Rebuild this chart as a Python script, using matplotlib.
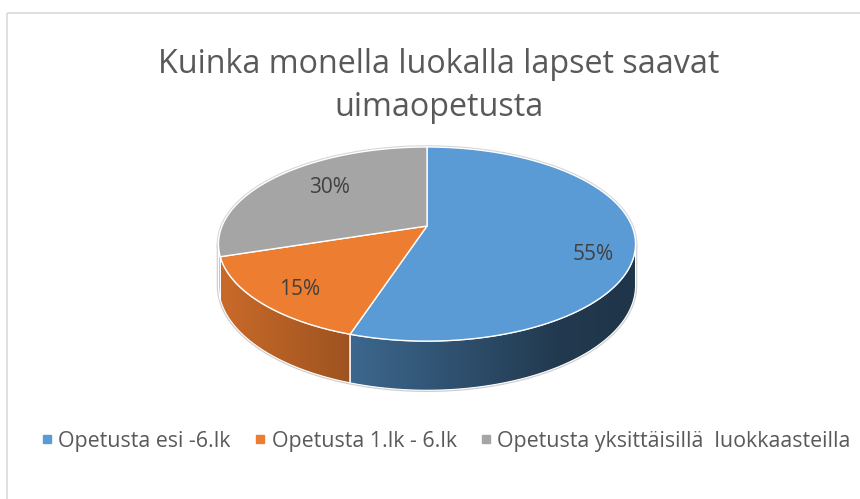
import numpy as np
import matplotlib.pyplot as plt
from matplotlib.patches import Polygon, Rectangle
from matplotlib.lines import Line2D

plt.rcParams['font.family'] = ['Open Sans', 'DejaVu Sans']

title = 'Kuinka monella luokalla lapset saavat\nuimaopetusta'
labels = ['Opetusta esi -6.lk', 'Opetusta 1.lk - 6.lk',
          'Opetusta yksittäisillä  luokkaasteilla']
values = [55, 15, 30]
colors = ['#5b9bd5', '#ed7d31', '#a5a5a5']

# geometry of the 3d pie, in pixels
cx, cy = 427, 226
rx, ry = 204.9, 93.7
k = 0.186          # perspective
depth = 40
label_r = [0.80, 0.79, 0.63]
label_dy = [16, 5, -6]


def project(theta, r=1.0):
    # theta: degrees clockwise from 12 o'clock
    t = np.radians(theta)
    u = r * np.sin(t)
    v = r * np.cos(t)
    s = 1 / (1 + k * v)
    return cx + rx * u * s, cy - ry * v * s, s


fig = plt.figure(figsize=(8.6, 4.99), dpi=100)
ax = fig.add_axes([0, 0, 1, 1])
ax.set_xlim(0, 860)
ax.set_ylim(499, 0)
ax.axis('off')

# chart frame
ax.add_patch(Rectangle((7, 13), 900, 600, fill=False, ec='#d9d9d9', lw=1.2))

fracs = np.array(values) / sum(values)
bounds = np.concatenate([[0], np.cumsum(fracs) * 360])

t_right = 90 + np.degrees(np.arcsin(k))
t_left = 270 - np.degrees(np.arcsin(k))

# faint shadow round the outline
tt = np.linspace(0, 360, 400)
ox, oy, _ = project(tt)
bx, by, bs = project(np.linspace(t_right, t_left, 200))
ax.fill(np.concatenate([bx, bx[::-1]]),
        np.concatenate([by + depth * bs, by[::-1]]),
        color='none', ec='#cfcfcf', lw=2.5, zorder=1)
ax.fill(ox, oy, color='none', ec='#d6d6d6', lw=2.5, zorder=1)


def shade(x):
    return np.interp(x, [220, 560, 640], [0.85, 0.37, 0.34])


# side walls with horizontal gradient
for i in range(len(values)):
    lo = max(bounds[i], t_right)
    hi = min(bounds[i + 1], t_left)
    if lo >= hi:
        continue
    th = np.linspace(lo, hi, 120)
    x, y, s = project(th)
    px = np.concatenate([x, x[::-1]])
    py = np.concatenate([y, (y + depth * s)[::-1]])
    poly = Polygon(np.column_stack([px, py]), closed=True, fc='none',
                   ec='white', lw=0.8, zorder=3)
    ax.add_patch(poly)
    x0, x1 = px.min() - 2, px.max() + 2
    y0, y1 = py.min() - 2, py.max() + 2
    cols = np.linspace(x0, x1, 300)
    base = np.array(plt.matplotlib.colors.to_rgb(colors[i]))
    img = shade(cols)[None, :, None] * base[None, None, :]
    img = np.repeat(img, 10, axis=0)
    im = ax.imshow(img, extent=(x0, x1, y1, y0), origin='upper',
                   aspect='auto', zorder=2, interpolation='bilinear')
    im.set_clip_path(poly)

# top face
for i in range(len(values)):
    th = np.linspace(bounds[i], bounds[i + 1], 150)
    x, y, _ = project(th)
    px = np.concatenate([[cx], x])
    py = np.concatenate([[cy], y])
    ax.add_patch(Polygon(np.column_stack([px, py]), closed=True,
                         fc=colors[i], ec='white', lw=1.0, zorder=4))
    mid = (bounds[i] + bounds[i + 1]) / 2
    lx, ly, _ = project(mid, label_r[i])
    ax.text(lx, ly + label_dy[i], f'{values[i]}%', ha='center', va='center',
            fontsize=15, color='#404040', zorder=5)

ax.text(439, 86, title, ha='center', va='center', fontsize=23.2,
        color='#595959', linespacing=1.4)

handles = [Line2D([], [], ls='none', marker='s', ms=5.5, mfc=c, mec=c)
           for c in colors]
ax.legend(handles, labels, loc='center', bbox_to_anchor=(446 / 860, 1 - 441 / 499),
          ncol=3, frameon=False, fontsize=15.4, handlelength=0.5,
          handletextpad=0.3, columnspacing=1.1, labelcolor='#595959')

fig.savefig('out.png', dpi=100)
